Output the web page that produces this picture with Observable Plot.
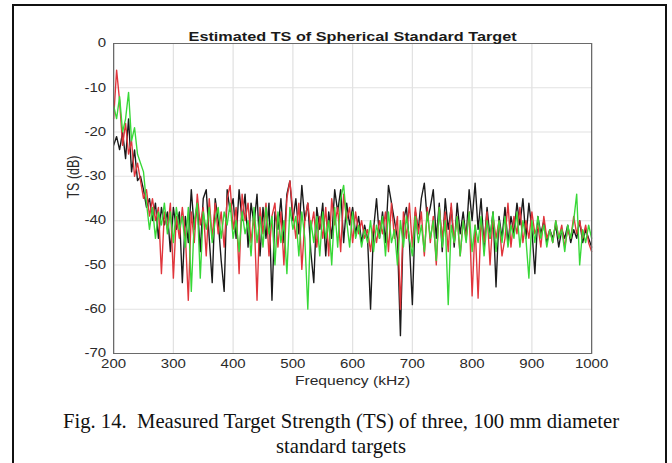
<!DOCTYPE html>
<html>
<head>
<meta charset="utf-8">
<script src="https://cdn.jsdelivr.net/npm/d3@7"></script>
<script src="https://cdn.jsdelivr.net/npm/@observablehq/plot@0.6"></script>
<style>
  html, body { margin: 0; padding: 0; background: #fff; }
  #page { position: relative; width: 672px; height: 463px; overflow: hidden; background: #fff; }
  #chart { position: absolute; left: 0; top: 0; }
  #border { position: absolute; left: 12px; top: 4px; width: 651px; height: 480px; border: 2px solid #111; pointer-events: none; }
  #caption { position: absolute; left: 30px; width: 622px; top: 409px; text-align: center;
    font-family: "Liberation Serif", "Times New Roman", serif; font-size: 20.7px; line-height: 25px; color: #111; }
</style>
</head>
<body>
<div id="page">
  <div id="chart"></div>
  <div id="border"></div>
  <div id="caption">Fig. 14.&nbsp; Measured Target Strength (TS) of three, 100 mm diameter<br>standard targets</div>
</div>
<script>
const title = "Estimated TS of Spherical Standard Target";
const xLabel = "Frequency (kHz)";
const yLabel = "TS (dB)";
const xTicks = [200, 300, 400, 500, 600, 700, 800, 900, 1000];
const yTicks = [0, -10, -20, -30, -40, -50, -60, -70];

const freq = [
  200,205,210,215,220,225,230,235,240,245,
  250,255,260,265,270,275,280,285,290,295,
  300,305,310,315,320,325,330,335,340,345,
  350,355,360,365,370,375,380,385,390,395,
  400,405,410,415,420,425,430,435,440,445,
  450,455,460,465,470,475,480,485,490,495,
  500,505,510,515,520,525,530,535,540,545,
  550,555,560,565,570,575,580,585,590,595,
  600,605,610,615,620,625,630,635,640,645,
  650,655,660,665,670,675,680,685,690,695,
  700,705,710,715,720,725,730,735,740,745,
  750,755,760,765,770,775,780,785,790,795,
  800,805,810,815,820,825,830,835,840,845,
  850,855,860,865,870,875,880,885,890,895,
  900,905,910,915,920,925,930,935,940,945,
  950,955,960,965,970,975,980,985,990,995,
  1000
];

const tsBlack = [
  -23,-21,-24,-20,-26,-17,-29,-24,-31,-30,
  -33,-37,-35,-40,-36,-44,-37,-41,-38,-47,
  -37,-42,-38,-54,-39,-45,-33,-42,-36,-47,
  -35,-33,-44,-54,-35,-40,-49,-56,-33,-38,
  -35,-44,-33,-40,-34,-46,-36,-41,-34,-48,
  -37,-44,-36,-58,-38,-42,-35,-45,-34,-31,
  -40,-35,-43,-32,-40,-36,-47,-54,-37,-42,
  -36,-48,-38,-44,-33,-38,-33,-45,-36,-41,
  -37,-43,-39,-45,-41,-44,-60,-42,-35,-44,
  -38,-45,-32,-36,-40,-44,-66,-40,-37,-45,
  -59,-38,-42,-35,-31.5,-40,-37,-33,-44,-36,
  -47,-35,-42,-37,-46,-36,-43,-38,-44,-33,
  -40,-31.5,-42,-35,-46,-37,-44,-38,-55,-39,
  -44,-37,-45,-39,-43,-36,-41,-35,-44,-36,
  -42,-52,-39,-43,-40,-45,-42,-44,-41,-46,
  -42,-44,-41,-45,-42,-44,-40,-45,-42,-44,
  -46
];

const tsRed = [
  -17,-6,-13,-23,-18,-25,-22,-30,-27,-31,
  -35,-33,-39,-35,-40,-37,-52,-38,-42,-36,
  -53,-39,-44,-37,-43,-58,-38,-45,-34,-41,
  -37,-48,-35,-44,-36,-43,-38,-46,-35,-32,
  -42,-37,-52,-34,-40,-36,-45,-38,-58,-37,
  -43,-36,-48,-39,-36,-46,-38,-50,-35,-31,
  -38,-44,-36,-51,-40,-36,-42,-38,-46,-39,
  -44,-37,-48,-35,-41,-37,-47,-34,-40,-37,
  -45,-38,-43,-40,-44,-42,-47,-41,-45,-40,
  -43,-38,-47,-36,-44,-39,-60,-38,-44,-36,
  -46,-37,-43,-38,-48,-37,-45,-39,-50,-37,
  -44,-38,-47,-36,-45,-39,-48,-40,-44,-38,
  -57,-41,-57.5,-40,-45,-38,-50,-39,-44,-40,
  -48,-44,-36,-46,-39,-43,-37,-45,-40,-44,
  -38,-43,-41,-46,-39,-44,-42,-45,-40,-44,
  -41,-46,-42,-44,-39,-43,-40,-44,-41,-45,
  -47
];

const tsGreen = [
  -14,-17,-12,-20,-17,-11,-22,-19,-25,-27,
  -29,-36,-42,-37,-44,-38,-41,-36,-43,-38,
  -45,-37,-42,-39,-46,-37,-56,-40,-36,-53,
  -38,-42,-37,-45,-40,-37,-44,-38,-41,-36,
  -44,-40,-47,-38,-43,-40,-48,-37,-45,-39,
  -46,-37,-43,-39,-50,-38,-45,-40,-52,-37,
  -42,-39,-48,-38,-44,-60,-40,-45,-39,-48,
  -38,-44,-40,-50,-37,-46,-35,-32,-40,-46,
  -38,-44,-41,-46,-42,-45,-40,-47,-41,-44,
  -39,-48,-38,-45,-42,-50,-40,-46,-39,-44,
  -48,-39,-45,-41,-47,-38,-44,-40,-49,-37,
  -46,-40,-59,-41,-45,-39,-48,-40,-45,-38,
  -47,-41,-45,-39,-48,-40,-44,-38,-47,-40,
  -45,-39,-46,-41,-44,-38,-46,-40,-44,-53,
  -40,-45,-39,-44,-41,-46,-42,-45,-40,-44,
  -42,-47,-41,-44,-40,-34,-50,-42,-45,-41,
  -44
];

const seriesNames = ["Target 1", "Target 2", "Target 3"];
const seriesColors = ["#1a1a1a", "#e0353b", "#38d838"];

const rows = (vals, s) => freq.map((f, i) => ({f, ts: vals[i], s}));
const dBlack = rows(tsBlack, seriesNames[0]);
const dRed = rows(tsRed, seriesNames[1]);
const dGreen = rows(tsGreen, seriesNames[2]);

// chart text in the reference is stretched horizontally; draw in a narrower
// coordinate space and display it at full width.
const K = 1.25;
const W = 672 / K;
const H = 400;
const fmt = d => String(d);

const chart = Plot.plot({
  width: W,
  height: H,
  marginLeft: 113 / K,
  marginRight: (672 - 591) / K,
  marginTop: 43,
  marginBottom: 47,
  style: {fontFamily: "'Liberation Sans', Arial, sans-serif", fontSize: "12px", color: "#2a2a2a", background: "transparent"},
  x: {domain: [200, 1000]},
  y: {domain: [-70, 0]},
  marks: [
    Plot.gridX(xTicks, {stroke: "#e2e2e2", strokeOpacity: 1}),
    Plot.gridY(yTicks, {stroke: "#e2e2e2", strokeOpacity: 1}),
    Plot.line(dBlack, {x: "f", y: "ts", stroke: seriesColors[0], strokeWidth: 1.1}),
    Plot.line(dRed, {x: "f", y: "ts", stroke: seriesColors[1], strokeWidth: 1.1}),
    Plot.line(dGreen, {x: "f", y: "ts", stroke: seriesColors[2], strokeWidth: 1.1}),
    Plot.frame({stroke: "#6a6a6a"}),
    Plot.axisX(xTicks, {tickSize: 0, tickPadding: 6, label: null, tickFormat: fmt, fontSize: 12}),
    Plot.axisY(yTicks, {tickSize: 0, tickPadding: 6, label: null, tickFormat: fmt, fontSize: 12}),
    Plot.text([title], {frameAnchor: "top", dy: -12, fontWeight: "bold", fontSize: 13, fill: "#1a1a1a"}),
    Plot.text([xLabel], {frameAnchor: "bottom", dy: 31, fontSize: 12.5, fill: "#2a2a2a"}),
    Plot.text([yLabel], {frameAnchor: "left", dx: -32, rotate: -90, fontSize: 12.5, fill: "#2a2a2a"})
  ]
});

chart.setAttribute("width", 672);
chart.setAttribute("height", H);
chart.setAttribute("preserveAspectRatio", "none");
chart.style.width = "672px";
chart.style.height = H + "px";
chart.style.maxWidth = "none";
document.getElementById("chart").appendChild(chart);
</script>
</body>
</html>
